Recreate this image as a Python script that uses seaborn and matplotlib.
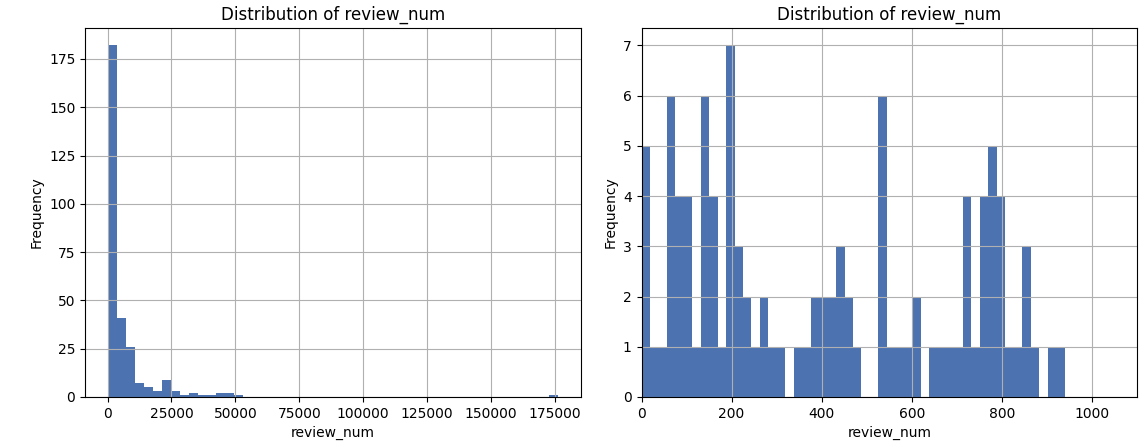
"""Distribution of review_num: full range and the part under 1000."""
import matplotlib
matplotlib.use('Agg')
import matplotlib.pyplot as plt
import numpy as np
import pandas as pd
import seaborn as sns

# left panel: 50 bins over the full range of review_num
full_max = 176200
full_counts = [182, 41, 26, 7, 5, 3, 9, 3, 1, 2,
               1, 1, 2, 2, 1, 0, 0, 0, 0, 0,
               0, 0, 0, 0, 0, 0, 0, 0, 0, 0,
               0, 0, 0, 0, 0, 0, 0, 0, 0, 0,
               0, 0, 0, 0, 0, 0, 0, 0, 0, 1]

# right panel: 50 bins over the reviews below 1000
small_max = 939
small_counts = [5, 1, 1, 6, 4, 4, 1, 6, 4, 1,
                7, 3, 2, 1, 2, 1, 1, 0, 1, 1,
                2, 2, 2, 3, 2, 1, 0, 0, 6, 1,
                1, 1, 2, 0, 1, 1, 1, 1, 4, 1,
                4, 5, 4, 1, 1, 3, 1, 0, 1, 1]

color = '#4c72b0'

fig, axes = plt.subplots(1, 2, figsize=(11.4, 4.43), dpi=100)

for ax, counts, top in zip(axes, [full_counts, small_counts], [full_max, small_max]):
    edges = np.linspace(0, top, len(counts) + 1)
    df = pd.DataFrame({'review_num': (edges[:-1] + edges[1:]) / 2,
                       'count': counts})
    sns.histplot(data=df, x='review_num', weights='count', bins=list(edges),
                 ax=ax, color=color, alpha=1, linewidth=0)
    ax.set_title('Distribution of review_num', fontsize=12)
    ax.set_xlabel('review_num')
    ax.set_ylabel('Frequency')
    ax.grid(True, color='#b0b0b0', linewidth=0.8)

axes[1].set_xlim(0, 1100)

fig.subplots_adjust(left=0.0746, right=0.9974, bottom=0.104, top=0.937, wspace=0.123)
fig.savefig('out.png', dpi=100)
